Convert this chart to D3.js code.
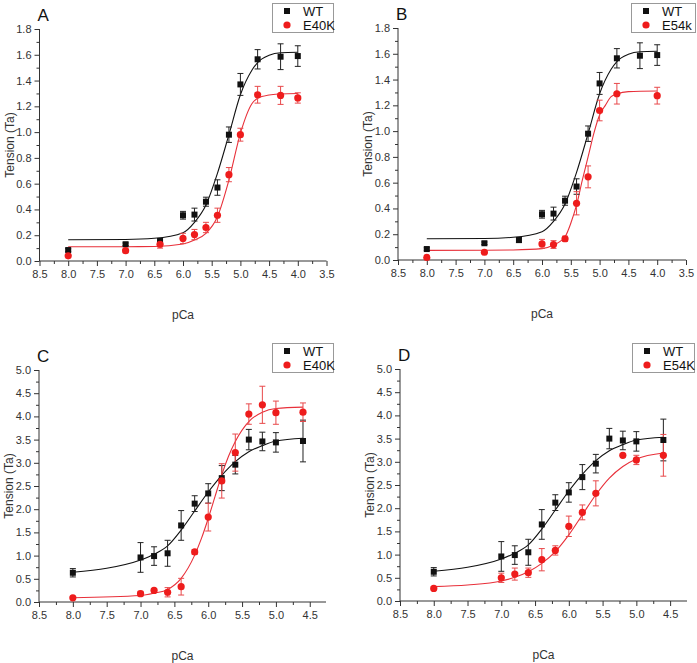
<!DOCTYPE html>
<html>
<head>
<meta charset="utf-8">
<script src="https://cdn.jsdelivr.net/npm/d3@7"></script>
<style>
  body { margin: 0; background: #fff; }
  svg { display: block; font-family: "Liberation Sans", Arial, sans-serif; }
</style>
</head>
<body>
<svg width="697" height="663"></svg>
<script>
"use strict";

// ---- data: panels A/B (WT shared) ----
var pcaAB = [8.0, 7.0, 6.4, 6.0, 5.8, 5.6, 5.4, 5.2, 5.0, 4.7, 4.3, 4.0];
var wtAB = [0.085, 0.13, 0.155, 0.355, 0.36, 0.46, 0.57, 0.98, 1.37, 1.565, 1.585, 1.59];
var wtABErr = [0.01, 0.01, 0.02, 0.03, 0.05, 0.035, 0.06, 0.06, 0.085, 0.075, 0.1, 0.08];
var e40kA = [0.04, 0.08, 0.13, 0.175, 0.205, 0.26, 0.355, 0.67, 0.98, 1.29, 1.285, 1.265];
var e40kAErr = [0, 0.01, 0.03, 0.04, 0.04, 0.04, 0.055, 0.055, 0.05, 0.065, 0.07, 0.04];
var pcaB = [8.0, 7.0, 6.0, 5.8, 5.6, 5.4, 5.2, 5.0, 4.7, 4.0];
var e54kB = [0.02, 0.06, 0.125, 0.12, 0.165, 0.44, 0.645, 1.16, 1.29, 1.275];
var e54kBErr = [0, 0.01, 0.035, 0.03, 0.02, 0.09, 0.085, 0.08, 0.08, 0.065];

// fitted curves
var fitPcaWtAB = [8.0, 7.0, 6.5, 6.0, 5.8, 5.6, 5.4, 5.2, 5.0, 4.8, 4.7, 4.5, 4.3, 4.0];
var fitWtAB = [0.165, 0.167, 0.176, 0.22, 0.30, 0.435, 0.68, 0.98, 1.29, 1.48, 1.54, 1.596, 1.616, 1.62];
var fitPcaE40kA = [8.0, 7.0, 6.5, 6.0, 5.8, 5.6, 5.4, 5.2, 5.0, 4.8, 4.7, 4.5, 4.3, 4.0];
var fitE40kA = [0.11, 0.111, 0.112, 0.132, 0.163, 0.215, 0.344, 0.628, 0.99, 1.22, 1.262, 1.288, 1.296, 1.30];
var fitPcaE54kB = [8.0, 7.0, 6.5, 6.0, 5.8, 5.6, 5.5, 5.4, 5.3, 5.2, 5.1, 5.0, 4.9, 4.8, 4.7, 4.5, 4.0];
var fitE54kB = [0.075, 0.076, 0.078, 0.088, 0.116, 0.18, 0.285, 0.427, 0.62, 0.80, 0.983, 1.125, 1.2, 1.267, 1.288, 1.306, 1.311];

// ---- data: panels C/D (WT shared) ----
var pcaCD = [8.0, 7.0, 6.8, 6.6, 6.4, 6.2, 6.0, 5.8, 5.6, 5.4, 5.2, 5.0, 4.6];
var wtCD = [0.63, 0.96, 0.99, 1.05, 1.65, 2.12, 2.34, 2.67, 2.96, 3.50, 3.46, 3.44, 3.47];
var wtCDErr = [0.09, 0.32, 0.2, 0.28, 0.32, 0.17, 0.21, 0.27, 0.2, 0.22, 0.2, 0.21, 0.45];
var e40kC = [0.09, 0.18, 0.25, 0.21, 0.33, 1.08, 1.83, 2.61, 3.22, 4.05, 4.25, 4.08, 4.09];
var e40kCErr = [0, 0.05, 0.03, 0.1, 0.18, 0.05, 0.3, 0.37, 0.4, 0.22, 0.4, 0.25, 0.2];
var pcaD = [8.0, 7.0, 6.8, 6.6, 6.4, 6.2, 6.0, 5.8, 5.6, 5.2, 5.0, 4.6];
var e54kD = [0.27, 0.50, 0.58, 0.61, 0.89, 1.09, 1.61, 1.91, 2.32, 3.14, 3.04, 3.14];
var e54kDErr = [0.03, 0.1, 0.13, 0.1, 0.24, 0.1, 0.22, 0.16, 0.27, 0.03, 0.1, 0.45];

var fitPcaWtCD = [8.0, 7.5, 7.0, 6.8, 6.6, 6.4, 6.2, 6.0, 5.8, 5.6, 5.4, 5.2, 5.0, 4.6];
var fitWtCD = [0.64, 0.726, 0.906, 1.03, 1.21, 1.55, 1.96, 2.37, 2.73, 3.025, 3.24, 3.37, 3.47, 3.53];
var fitPcaE40kC = [8.0, 7.0, 6.8, 6.6, 6.4, 6.2, 6.1, 6.0, 5.9, 5.8, 5.7, 5.6, 5.4, 5.2, 5.0, 4.6];
var fitE40kC = [0.093, 0.14, 0.19, 0.27, 0.51, 1.01, 1.37, 1.80, 2.27, 2.74, 3.14, 3.46, 3.89, 4.09, 4.17, 4.20];
var fitPcaE54kD = [8.0, 7.5, 7.0, 6.8, 6.6, 6.4, 6.2, 6.0, 5.8, 5.6, 5.4, 5.2, 5.0, 4.6];
var fitE54kD = [0.31, 0.345, 0.43, 0.51, 0.63, 0.81, 1.065, 1.425, 1.857, 2.29, 2.65, 2.90, 3.06, 3.19];

var xTicksAB = [8.5, 8.0, 7.5, 7.0, 6.5, 6.0, 5.5, 5.0, 4.5, 4.0, 3.5];
var xTicksCD = [8.5, 8.0, 7.5, 7.0, 6.5, 6.0, 5.5, 5.0, 4.5];
var yTicksAB = [0, 0.2, 0.4, 0.6, 0.8, 1.0, 1.2, 1.4, 1.6, 1.8];
var yTicksCD = [0, 0.5, 1.0, 1.5, 2.0, 2.5, 3.0, 3.5, 4.0, 4.5, 5.0];

var BLACK = "#111", RED = "#ee1c1c", RED_ERR = "#e8494b";

var svg = d3.select("svg");
var fmt = d3.format(".1f");

function pts(xs, ys, es) {
  return xs.map(function(x, i) { return {x: x, y: ys[i], e: es ? es[i] : 0}; });
}

function drawPanel(o) {
  var x = d3.scaleLinear().domain(o.xDomain).range([o.left, o.right]);
  var y = d3.scaleLinear().domain(o.yDomain).range([o.bottom, o.top]);
  var g = svg.append("g");

  // minor ticks halfway between majors
  var xMinor = [], yMinor = [];
  for (var i = 0; i < o.xTicks.length - 1; i++) xMinor.push((o.xTicks[i] + o.xTicks[i + 1]) / 2);
  for (var j = 0; j < o.yTicks.length - 1; j++) yMinor.push((o.yTicks[j] + o.yTicks[j + 1]) / 2);

  g.append("g").attr("transform", "translate(0," + o.bottom + ")")
    .call(d3.axisBottom(x).tickValues(o.xTicks).tickSize(5).tickPadding(4).tickFormat(fmt));
  g.append("g").attr("transform", "translate(0," + o.bottom + ")")
    .call(d3.axisBottom(x).tickValues(xMinor).tickSize(3).tickFormat(""));
  g.append("g").attr("transform", "translate(" + o.left + ",0)")
    .call(d3.axisLeft(y).tickValues(o.yTicks).tickSize(5).tickPadding(3).tickFormat(fmt));
  g.append("g").attr("transform", "translate(" + o.left + ",0)")
    .call(d3.axisLeft(y).tickValues(yMinor).tickSize(3).tickFormat(""));

  g.selectAll(".domain").remove();
  g.append("line").attr("x1", o.left).attr("x2", o.right).attr("y1", o.bottom).attr("y2", o.bottom)
    .attr("stroke", "#333");
  g.append("line").attr("x1", o.left).attr("x2", o.left).attr("y1", o.bottom).attr("y2", o.top)
    .attr("stroke", "#333");
  g.selectAll(".tick line").attr("stroke", "#333");
  g.selectAll(".tick text").attr("fill", "#333").style("font-size", "11px")
    .style("font-family", "'Liberation Sans', Arial, sans-serif");

  // axis titles
  g.append("text").attr("x", (o.left + o.right) / 2).attr("y", o.bottom + 58)
    .attr("text-anchor", "middle").attr("fill", "#333").style("font-size", "12px").text("pCa");
  g.append("text")
    .attr("transform", "translate(" + (o.left - 26) + "," + ((o.top + o.bottom) / 2) + ") rotate(-90)")
    .attr("text-anchor", "middle").attr("fill", "#333").style("font-size", "12px").text("Tension (Ta)");

  // panel letter
  g.append("text").attr("x", o.left - 2).attr("y", o.top - 8).attr("fill", "#111")
    .style("font-size", "17px").text(o.letter);

  var line = d3.line().x(function(d) { return x(d.x); }).y(function(d) { return y(d.y); })
    .curve(d3.curveMonotoneX);

  o.series.forEach(function(s) {
    g.append("path").datum(pts(s.fitX, s.fitY)).attr("d", line)
      .attr("fill", "none").attr("stroke", s.lineColor).attr("stroke-width", 1.1);
  });

  o.series.forEach(function(s) {
    var data = pts(s.x, s.y, s.e).filter(function(d) { return d.e > 0; });
    var eb = g.append("g").attr("stroke", s.errColor).attr("stroke-width", 1);
    eb.selectAll("line.v").data(data).join("line")
      .attr("x1", function(d) { return x(d.x); }).attr("x2", function(d) { return x(d.x); })
      .attr("y1", function(d) { return y(d.y - d.e); }).attr("y2", function(d) { return y(d.y + d.e); });
    eb.selectAll("line.t").data(data).join("line")
      .attr("x1", function(d) { return x(d.x) - 3; }).attr("x2", function(d) { return x(d.x) + 3; })
      .attr("y1", function(d) { return y(d.y + d.e); }).attr("y2", function(d) { return y(d.y + d.e); });
    eb.selectAll("line.b").data(data).join("line")
      .attr("x1", function(d) { return x(d.x) - 3; }).attr("x2", function(d) { return x(d.x) + 3; })
      .attr("y1", function(d) { return y(d.y - d.e); }).attr("y2", function(d) { return y(d.y - d.e); });
  });

  o.series.forEach(function(s) {
    var data = pts(s.x, s.y);
    drawMarkers(g.append("g"), data.map(function(d) { return [x(d.x), y(d.y)]; }), s);
  });

  // legend
  var lg = g.append("g");
  lg.append("rect").attr("x", o.legend[0] + 0.5).attr("y", o.legend[1] + 0.5)
    .attr("width", o.legend[2]).attr("height", o.legend[3])
    .attr("fill", "#fff").attr("stroke", "#999");
  o.series.forEach(function(s, k) {
    var ly = o.legend[1] + 8 + k * 14;
    drawMarkers(lg, [[o.legend[0] + 15, ly]], s);
    lg.append("text").attr("x", o.legend[0] + 31).attr("y", ly + 5)
      .attr("fill", "#111").style("font-size", "13px").text(s.name);
  });
}

function drawMarkers(sel, xy, s) {
  if (s.shape === "square") {
    sel.selectAll(null).data(xy).join("rect")
      .attr("x", function(d) { return d[0] - 3; }).attr("y", function(d) { return d[1] - 3; })
      .attr("width", 6).attr("height", 6).attr("fill", s.color);
  } else {
    sel.selectAll(null).data(xy).join("circle")
      .attr("cx", function(d) { return d[0]; }).attr("cy", function(d) { return d[1]; })
      .attr("r", 3.6).attr("fill", s.color);
  }
}

function wtSeries(x, y, e, fx, fy) {
  return {name: "WT", shape: "square", color: BLACK, errColor: "#222", lineColor: "#111",
    x: x, y: y, e: e, fitX: fx, fitY: fy};
}
function mutSeries(name, x, y, e, fx, fy) {
  return {name: name, shape: "circle", color: RED, errColor: RED_ERR, lineColor: "#e8303a",
    x: x, y: y, e: e, fitX: fx, fitY: fy};
}

drawPanel({
  letter: "A", left: 39.5, right: 326.5, top: 29, bottom: 261,
  xDomain: [8.5, 3.5], yDomain: [0, 1.8], xTicks: xTicksAB, yTicks: yTicksAB,
  legend: [272, 3, 61, 29],
  series: [wtSeries(pcaAB, wtAB, wtABErr, fitPcaWtAB, fitWtAB),
           mutSeries("E40K", pcaAB, e40kA, e40kAErr, fitPcaE40kA, fitE40kA)]
});
drawPanel({
  letter: "B", left: 398, right: 686, top: 28, bottom: 260,
  xDomain: [8.5, 3.5], yDomain: [0, 1.8], xTicks: xTicksAB, yTicks: yTicksAB,
  legend: [631, 3, 64, 29],
  series: [wtSeries(pcaAB, wtAB, wtABErr, fitPcaWtAB, fitWtAB),
           mutSeries("E54k", pcaB, e54kB, e54kBErr, fitPcaE54kB, fitE54kB)]
});
drawPanel({
  letter: "C", left: 39, right: 326, top: 370, bottom: 602,
  xDomain: [8.5, 4.26], yDomain: [0, 5], xTicks: xTicksCD, yTicks: yTicksCD,
  legend: [272, 343, 61, 29],
  series: [wtSeries(pcaCD, wtCD, wtCDErr, fitPcaWtCD, fitWtCD),
           mutSeries("E40K", pcaCD, e40kC, e40kCErr, fitPcaE40kC, fitE40kC)]
});
drawPanel({
  letter: "D", left: 400, right: 687, top: 369, bottom: 601,
  xDomain: [8.5, 4.25], yDomain: [0, 5], xTicks: xTicksCD, yTicks: yTicksCD,
  legend: [632, 343, 62, 29],
  series: [wtSeries(pcaCD, wtCD, wtCDErr, fitPcaWtCD, fitWtCD),
           mutSeries("E54K", pcaD, e54kD, e54kDErr, fitPcaE54kD, fitE54kD)]
});
</script>
</body>
</html>
